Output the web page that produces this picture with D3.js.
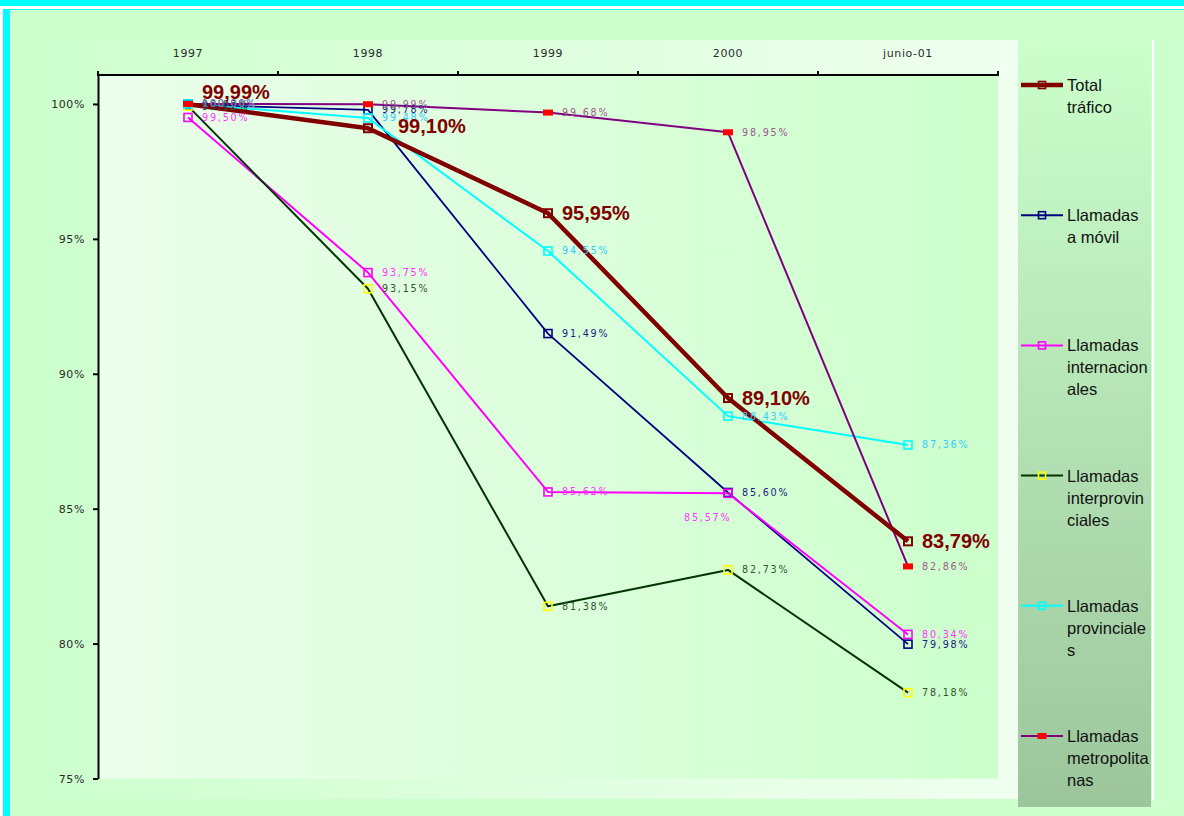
<!DOCTYPE html>
<html>
<head>
<meta charset="utf-8">
<script src="https://cdn.jsdelivr.net/npm/d3@7"></script>
<style>
  html, body { margin: 0; padding: 0; background: #ffffff; }
  svg { display: block; }
</style>
</head>
<body>
<svg id="chart" width="1184" height="816"></svg>
<script>
// ---------- DATA ----------
const categories = ["1997", "1998", "1999", "2000", "junio-01"];
const seriesNames = ["Total tráfico", "Llamadas a móvil", "Llamadas internacionales",
                     "Llamadas interprovinciales", "Llamadas provinciales", "Llamadas metropolitanas"];
const totalTrafico      = [99.99, 99.10, 95.95, 89.10, 83.79];
const llamadasMovil     = [99.97, 99.78, 91.49, 85.60, 79.98];
const llamadasInternac  = [99.50, 93.75, 85.62, 85.57, 80.34];
const llamadasInterprov = [99.92, 93.15, 81.38, 82.73, 78.18];
const llamadasProvinc   = [100.00, 99.48, 94.55, 88.43, 87.36];
const llamadasMetropol  = [100.00, 99.99, 99.68, 98.95, 82.86];
const yTickValues = [75, 80, 85, 90, 95, 100];
const legendLines = [["Total", "tráfico"], ["Llamadas", "a móvil"], ["Llamadas", "internacion", "ales"],
                     ["Llamadas", "interprovin", "ciales"], ["Llamadas", "provinciale", "s"],
                     ["Llamadas", "metropolita", "nas"]];

// ---------- STYLES ----------
const styles = [
  { line: "#800000", width: 4.5, marker: "square", mStroke: "#800000", label: "#800000", big: true },
  { line: "#000080", width: 1.8, marker: "square", mStroke: "#000080", label: "#1a1a80" },
  { line: "#ff00ff", width: 2,   marker: "square", mStroke: "#ff00ff", label: "#ff33ff" },
  { line: "#003300", width: 2,   marker: "square", mStroke: "#ffff00", label: "#2e552e" },
  { line: "#00ffff", width: 2,   marker: "square", mStroke: "#00ffff", label: "#33ccff" },
  { line: "#800080", width: 2,   marker: "rect",   mStroke: "#ff0000", label: "#9a5a8a" }
];
const allSeries = [totalTrafico, llamadasMovil, llamadasInternac, llamadasInterprov, llamadasProvinc, llamadasMetropol];
// label nudges (series index -> point index -> [dx, dy]) for labels Excel moved
const nudges = { 0: { 0: [0, -12], 1: [16, -2] }, 2: { 3: [-58, 24] } };

const svg = d3.select("#chart");
const defs = svg.append("defs");

function hGrad(id, c1, c2) {
  const g = defs.append("linearGradient").attr("id", id).attr("x1", 0).attr("x2", 1).attr("y1", 0).attr("y2", 0);
  g.append("stop").attr("offset", 0).attr("stop-color", c1);
  g.append("stop").attr("offset", 1).attr("stop-color", c2);
}
hGrad("boxGrad", "#ccffcc", "#f0fff0");
hGrad("plotGrad", "#ecfeec", "#ccffcc");
const vg = defs.append("linearGradient").attr("id", "legGrad").attr("x1", 0).attr("x2", 0).attr("y1", 0).attr("y2", 1);
vg.append("stop").attr("offset", 0).attr("stop-color", "#ccffcc");
vg.append("stop").attr("offset", 1).attr("stop-color", "#9cc59c");
defs.append("clipPath").attr("id", "legClip").append("rect").attr("x", 1018).attr("y", 40).attr("width", 133).attr("height", 767);

// ---------- FRAME ----------
svg.append("rect").attr("x", 0).attr("y", 0).attr("width", 1184).attr("height", 6).attr("fill", "#00ffff");
svg.append("rect").attr("x", 3).attr("y", 9).attr("width", 1181).attr("height", 1).attr("fill", "#00ffff");
svg.append("rect").attr("x", 3).attr("y", 9).attr("width", 7).attr("height", 807).attr("fill", "#00ffff");
svg.append("rect").attr("x", 10).attr("y", 10).attr("width", 1174).attr("height", 806).attr("fill", "#ccffcc");
svg.append("rect").attr("x", 10).attr("y", 40).attr("width", 1008).attr("height", 759).attr("fill", "url(#boxGrad)");

// ---------- SCALES ----------
const plotL = 98, plotR = 998, plotT = 74, plotB = 778.5;
const x = d3.scalePoint().domain(categories).range([plotL, plotR]).padding(0.5);
const xBand = d3.scaleBand().domain(categories).range([plotL, plotR]);
const y = d3.scaleLinear().domain([75, 101.11]).range([plotB, plotT]);

svg.append("rect").attr("x", plotL).attr("y", plotT).attr("width", plotR - plotL).attr("height", plotB - plotT)
  .attr("fill", "url(#plotGrad)");

// legend box
svg.append("rect").attr("x", 1018).attr("y", 40).attr("width", 133).attr("height", 767).attr("fill", "url(#legGrad)");
svg.append("rect").attr("x", 1152).attr("y", 40).attr("width", 2).attr("height", 760).attr("fill", "#ffffff");

// ---------- AXES ----------
const yAxis = d3.axisLeft(y).tickValues(yTickValues).tickSize(5).tickSizeOuter(0).tickPadding(8)
  .tickFormat(d => d + "%");
const gy = svg.append("g").attr("transform", `translate(${plotL},0)`).call(yAxis);
gy.select(".domain").attr("stroke", "#000").attr("stroke-width", 2);
gy.selectAll(".tick line").attr("stroke", "#000").attr("stroke-width", 2);
gy.selectAll(".tick text").attr("font-family", "DejaVu Sans, Verdana, sans-serif").attr("font-size", 11)
  .attr("letter-spacing", 0.6).attr("fill", "#2a2a2a");

const gx = svg.append("g");
gx.append("line").attr("x1", plotL - 1).attr("x2", plotR + 1).attr("y1", plotT + 1).attr("y2", plotT + 1)
  .attr("stroke", "#000").attr("stroke-width", 2);
const bounds = categories.map(c => xBand(c)).concat([xBand(categories[categories.length - 1]) + xBand.bandwidth()]);
gx.selectAll("line.tk").data(bounds).join("line").attr("class", "tk")
  .attr("x1", d => d).attr("x2", d => d).attr("y1", plotT - 3).attr("y2", plotT + 1)
  .attr("stroke", "#000").attr("stroke-width", 2);
gx.selectAll("text").data(categories).join("text")
  .attr("x", d => x(d)).attr("y", 57).attr("text-anchor", "middle")
  .attr("font-family", "DejaVu Sans, Verdana, sans-serif").attr("font-size", 11).attr("letter-spacing", 0.6)
  .attr("fill", "#2a2a2a").text(d => d);

// ---------- SERIES ----------
const loc = d3.formatLocale({ decimal: ",", thousands: ".", grouping: [3], currency: ["", "€"] });
const fmt = v => loc.format(".2f")(v) + "%";
const line = d3.line().x((d, i) => x(categories[i])).y(d => y(d));

function drawMarkers(g, st, vals) {
  if (st.marker === "rect") {
    g.selectAll("rect").data(vals).join("rect")
      .attr("x", (d, i) => x(categories[i]) - 5).attr("y", d => y(d) - 3)
      .attr("width", 10).attr("height", 6).attr("fill", st.mStroke);
  } else {
    g.selectAll("rect").data(vals).join("rect")
      .attr("x", (d, i) => x(categories[i]) - 4).attr("y", d => y(d) - 4)
      .attr("width", 8).attr("height", 8).attr("fill", "none")
      .attr("stroke", st.mStroke).attr("stroke-width", st.big ? 2 : 1.6);
  }
}
function drawLabels(g, si, st, vals) {
  g.selectAll("text").data(vals).join("text")
    .attr("x", (d, i) => x(categories[i]) + 14 + ((nudges[si] && nudges[si][i]) ? nudges[si][i][0] : 0))
    .attr("y", (d, i) => y(d) + ((nudges[si] && nudges[si][i]) ? nudges[si][i][1] : 0))
    .attr("dy", st.big ? "0.35em" : "0.36em")
    .attr("font-family", st.big ? "Liberation Sans, Arial, sans-serif" : "DejaVu Sans, Verdana, sans-serif")
    .attr("font-size", st.big ? 20 : 9.6)
    .attr("font-weight", st.big ? "bold" : "normal")
    .attr("letter-spacing", st.big ? 0 : 1.8)
    .attr("fill", st.label)
    .text(d => fmt(d));
}

const order = [1, 2, 3, 4, 5];
const gLines = svg.append("g");
order.forEach(si => {
  gLines.append("path").datum(allSeries[si]).attr("d", line).attr("fill", "none")
    .attr("stroke", styles[si].line).attr("stroke-width", styles[si].width).attr("stroke-linejoin", "round");
});
svg.append("path").datum(totalTrafico).attr("d", line).attr("fill", "none")
  .attr("stroke", styles[0].line).attr("stroke-width", styles[0].width).attr("stroke-linejoin", "round");
drawMarkers(svg.append("g"), styles[0], totalTrafico);
order.forEach(si => drawMarkers(svg.append("g"), styles[si], allSeries[si]));
order.forEach(si => drawLabels(svg.append("g"), si, styles[si], allSeries[si]));
drawLabels(svg.append("g"), 0, styles[0], totalTrafico);

// ---------- LEGEND ----------
const legY = d3.scalePoint().domain(seriesNames).range([85, 736]);
const lg = svg.append("g").attr("clip-path", "url(#legClip)");
seriesNames.forEach((name, si) => {
  const st = styles[si], cy = legY(name);
  const g = lg.append("g");
  g.append("line").attr("x1", 1021).attr("x2", 1063).attr("y1", cy).attr("y2", cy)
    .attr("stroke", st.line).attr("stroke-width", st.big ? 4.5 : 2);
  if (st.marker === "rect") {
    g.append("rect").attr("x", 1037.5).attr("y", cy - 3).attr("width", 9).attr("height", 6).attr("fill", st.mStroke);
  } else {
    g.append("rect").attr("x", 1038.5).attr("y", cy - 3.5).attr("width", 7).attr("height", 7)
      .attr("fill", "none").attr("stroke", st.mStroke).attr("stroke-width", 1.6);
  }
  g.append("text").attr("x", 1067).attr("y", cy + 6)
    .attr("font-family", "Liberation Sans, Arial, sans-serif").attr("font-size", 16.5).attr("fill", "#111")
    .selectAll("tspan").data(legendLines[si]).join("tspan")
    .attr("x", 1067).attr("dy", (d, i) => i === 0 ? 0 : 22).text(d => d);
});
</script>
</body>
</html>
